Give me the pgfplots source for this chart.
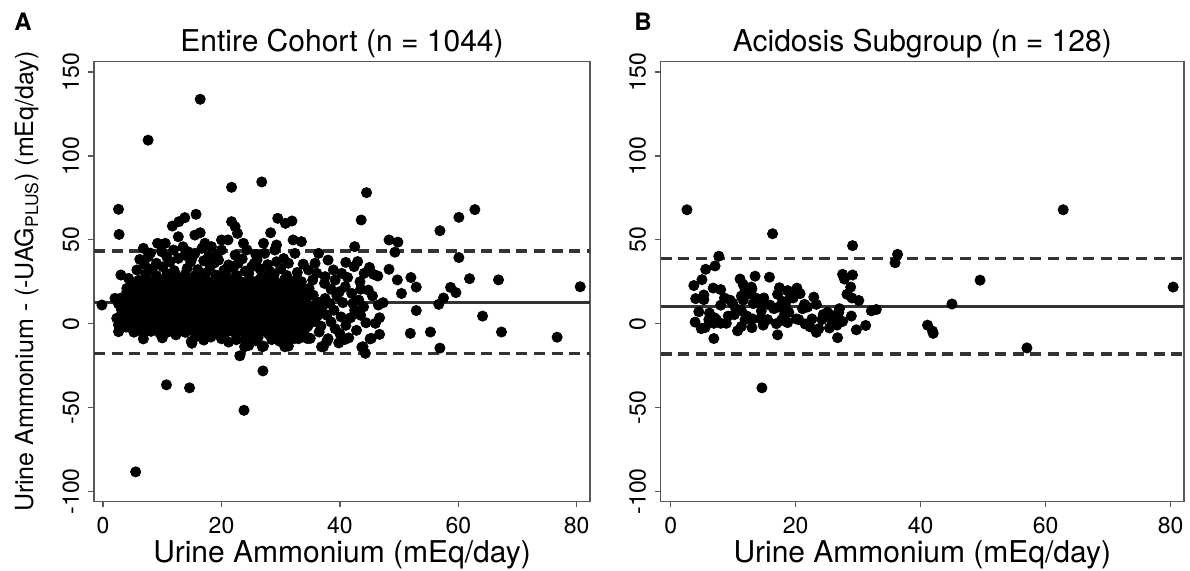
\documentclass[border=0pt]{standalone}
\usepackage{fontspec}
\setmainfont{TeX Gyre Heros}
\usepackage{pgfplots}
\pgfplotsset{compat=1.18}

\definecolor{boxgray}{gray}{0.35}
\definecolor{linegray}{gray}{0.2}

\pgfplotsset{
  bland/.style={
    scale only axis, height=220pt,
    ymin=-106.2, ymax=156.2,
    xtick={0,20,40,60,80}, xticklabels={0,20,40,60,80},
    ytick={-100,-50,0,50,100,150}, yticklabels={-100,-50,0,50,100,150},
    tick align=outside, xtick pos=bottom, ytick pos=left,
    major tick length=2.85pt,
    axis line style={boxgray, line width=0.7pt},
    every tick/.style={boxgray, line width=0.7pt},
    tick label style={font=\fontsize{11.5}{13}\selectfont, inner sep=0pt},
    xticklabel style={anchor=north, yshift=-4.65pt},
    yticklabel style={rotate=90, anchor=south},
    yticklabel shift=4.3pt,
    every axis title/.style={font=\fontsize{15}{17}\selectfont, at={(0.5,1)}, anchor=base, yshift=5pt},
    every axis x label/.style={font=\fontsize{15}{17}\selectfont, at={(0.5,0)}, anchor=base, yshift=-30.5pt},
  },
  dots/.style={only marks, mark=*, mark size=2.55pt, mark options={draw=black, fill=black}},
  mean/.style={linegray, line width=1.5pt},
  loa/.style={linegray, line width=1.65pt, dash pattern=on 5.5pt off 3.3pt},
}

\begin{document}
\begin{tikzpicture}
% ---------------- panel A ----------------
\begin{axis}[bland, name=L, at={(0,0)}, anchor=south west, width=248pt,
  xmin=-1.54, xmax=82.25,
  title={Entire Cohort (n = 1044)}, xlabel={Urine Ammonium (mEq/day)}]
\addplot[loa] coordinates {(-1.54,43.3) (82.25,43.3)};
\addplot[loa] coordinates {(-1.54,-18.0) (82.25,-18.0)};
\addplot[mean] coordinates {(-1.54,12.6) (82.25,12.6)};
% outliers and sparse points
\addplot[dots] coordinates {
(16.4,133.8) (7.6,109.4) (26.8,84.5) (21.7,81.3) (44.5,78.1) (62.8,68.0) (2.6,68.2)
(60.1,63.4) (43.6,61.8) (56.9,55.4) (2.7,53.2) (10.7,-36.5) (14.6,-38.3) (23.8,-51.7)
(5.5,-88.4) (27.0,-28.2) (23.1,-19.2) (80.6,22.0) (76.7,-8.1) (67.3,-5.0) (64.1,4.5)
(66.8,26.1) (61.9,26.8) (60.1,39.4) (58.7,21.6) (59.6,18.5) (57.5,15.3) (56.7,11.5)
(56.9,-14.6) (55.3,-5.0) (51.9,-5.8) (52.9,7.8) (52.9,21.8) (52.0,27.5) (50.4,18.0)
(49.7,26.1) (48.3,49.9) (49.8,48.6) (49.3,42.6) (48.3,32.4) (45.7,29.4) (46.4,28.4)
(42.5,45.9) (46.5,11.1) (47.3,12.5) (45.5,16.5) (46.0,0.2) (46.7,3.5) (46.7,-6.4)
(45.3,-8.8) (43.7,-14.1) (44.3,-17.7) (43.4,25.0) (-0.2,11.1) (2.0,15.1) (2.3,3.2)
(2.6,-0.8) (2.6,-4.8) (3.0,29.0)
(11.7,58.2) (12.8,60.8) (13.8,63.2) (15.7,65.2) (21.7,60.8) (22.3,57.8) (22.7,53.8)
(29.5,62.8) (30.8,59.8) (31.9,61.2) (12.7,51.8) (15.5,52.8) (16.4,54.2) (28.3,54.2)
(29.3,46.9) (27.1,47.9) (32.1,49.9) (33.5,48.9) (9.2,47.9) (10.5,47.9) (6.8,44.9)
(20.0,49.9) (21.1,49.9) (23.7,47.9) (18.3,45.9) (17.2,47.9) (6.2,38.3) (7.6,39.9)
(9.9,42.9) (11.9,43.9) (12.7,38.9) (13.8,40.8) (11.3,36.9) (15.5,41.9) (16.7,44.9)
(19.5,37.9) (20.0,43.9) (22.3,40.9) (22.8,36.0) (25.1,33.9) (27.3,41.9) (29.0,43.9)
(29.3,36.9) (31.3,36.0) (32.4,41.9) (34.7,32.0) (35.8,36.0) (36.4,41.9) (38.0,37.9)
(38.9,32.0) (37.5,28.0) (39.2,26.0) (40.3,30.0) (35.4,26.0) (36.1,30.0) (4.3,27.0)
(4.0,21.0) (5.7,32.0)
(8.3,32.5) (10.1,33.8) (12.0,31.6) (14.2,33.0) (16.0,32.2) (18.1,34.1) (20.4,31.8)
(22.0,33.2) (24.0,31.3) (26.5,32.6) (28.2,31.0) (30.0,32.8) (32.8,30.5) (17.0,37.5)
(14.8,36.8) (9.0,36.0) (26.0,38.0) (24.3,44.0) (13.5,45.8) (19.2,41.0)
(7.0,35.2) (10.8,39.5) (15.0,38.9) (18.8,36.2) (21.2,35.0) (23.5,38.6) (25.5,35.8)
(27.8,35.2) (30.5,38.8) (33.8,35.5) (8.0,42.0) (14.4,42.8) (17.8,40.0) (25.8,41.2)
(6.8,-9.1) (14.9,-10.6) (15.7,-7.8) (15.0,-11.7) (23.9,-13.8) (24.6,-13.0) (26.9,-13.8)
(27.1,-13.4) (30.7,-13.8) (31.3,-13.4) (32.3,-8.9) (34.5,-8.9) (36.9,-13.8) (37.8,-10.6)
(40.8,-9.5) (43.9,-13.8) (45.1,-9.1) (20.0,-9.0) (10.0,-8.5) (28.5,-9.5) (18.2,-8.0)
(22.5,-9.6) (25.8,-10.2) (21.2,-11.0) (24.0,-9.2) (29.8,-10.5) (26.2,-8.0) (17.0,-9.8)
(33.5,25.0) (34.8,21.0) (35.5,17.0) (36.2,13.0) (37.0,9.5) (37.8,5.0) (38.5,1.0)
(39.2,-3.0) (36.5,-5.0) (38.0,-9.0) (40.0,-6.0) (41.0,-1.0) (41.8,3.5) (42.5,8.0)
(40.5,12.5) (39.5,16.5) (38.5,20.5) (37.4,24.0) (40.9,22.0) (42.0,18.0) (43.2,14.0)
(44.0,10.0) (43.5,5.0) (44.4,0.5) (42.8,-4.0) (41.5,-8.5) (39.8,-11.5) (37.2,-13.8)
(35.0,-8.8) (33.0,-9.0) (44.1,30.0) (42.4,34.0) (43.0,37.0) (41.0,36.5) (45.0,33.5)
(44.8,20.0) (36.8,-1.5) (37.5,15.0) (39.0,8.0) (40.2,4.0) (35.8,2.5) (38.3,12.0)
(41.3,27.5) (39.9,19.0) (42.2,12.0) (43.5,20.5)
};
% dense core of the cohort
\addplot[dots] coordinates {
(5.2,-5.1) (6.8,-6.3) (8.1,-4.6) (9.6,-5.8) (11.0,-4.9) (12.3,-6.7) (13.9,-5.2)
(15.2,-4.4) (16.8,-6.1) (18.1,-5.0) (19.7,-7.2) (21.0,-4.8) (22.4,-6.0) (23.9,-5.3)
(25.3,-7.0) (26.6,-4.7) (28.0,-6.4) (29.5,-5.5) (30.9,-7.8) (32.4,-5.1) (34.0,-4.2)
(3.9,-2.1) (5.0,-3.0) (6.1,-1.8) (7.3,-2.9) (8.4,-2.2) (9.5,-3.4) (10.6,-1.9)
(11.8,-2.8) (12.9,-2.0) (14.0,-3.3) (15.1,-2.4) (16.3,-1.7) (17.4,-3.1) (18.5,-2.3)
(19.6,-2.9) (20.8,-1.6) (21.9,-3.2) (23.0,-2.5) (24.1,-1.9) (25.3,-3.0) (26.4,-2.2)
(27.5,-3.5) (28.7,-1.8) (29.8,-2.7) (30.9,-3.3) (32.1,-2.0) (33.3,-2.9) (34.6,-1.5)
(3.4,1.5) (4.5,0.6) (5.6,1.8) (6.7,0.9) (7.8,1.4) (8.9,0.3) (10.0,1.7) (11.1,0.8)
(12.2,1.9) (13.3,0.5) (14.4,1.2) (15.5,1.8) (16.6,0.4) (17.7,1.6) (18.8,0.7) (19.9,1.3)
(21.0,0.2) (22.1,1.9) (23.2,0.8) (24.3,1.4) (25.4,0.5) (26.5,1.7) (27.6,0.9) (28.7,1.5)
(29.8,0.3) (30.9,1.8) (32.0,0.6) (33.2,1.3) (34.5,0.2) (35.8,1.1)
(3.0,4.8) (4.1,3.9) (5.2,5.1) (6.3,4.2) (7.4,5.3) (8.5,3.8) (9.6,4.9) (10.7,4.1)
(11.8,5.4) (12.9,3.7) (14.0,4.6) (15.1,5.2) (16.2,4.0) (17.3,4.9) (18.4,3.6) (19.5,5.0)
(20.6,4.3) (21.7,5.5) (22.8,3.9) (23.9,4.7) (25.0,5.3) (26.1,4.0) (27.2,4.8) (28.3,3.7)
(29.4,5.1) (30.5,4.4) (31.6,5.6) (32.7,3.8) (33.8,4.9) (35.0,4.2) (36.3,5.0)
(3.1,8.4) (4.2,7.5) (5.3,8.7) (6.4,7.8) (7.5,8.2) (8.6,7.3) (9.7,8.9) (10.8,7.6)
(11.9,8.5) (13.0,7.9) (14.1,8.8) (15.2,7.4) (16.3,8.3) (17.4,7.7) (18.5,8.9) (19.6,7.5)
(20.7,8.2) (21.8,7.8) (22.9,8.7) (24.0,7.3) (25.1,8.5) (26.2,7.9) (27.3,8.6) (28.4,7.4)
(29.5,8.3) (30.6,7.7) (31.7,8.8) (32.8,7.6) (33.9,8.1) (35.1,7.4) (36.4,8.6)
(2.6,11.8) (3.7,11.0) (4.8,12.1) (5.9,11.3) (7.0,11.9) (8.1,10.9) (9.2,12.2) (10.3,11.4)
(11.4,12.0) (12.5,11.1) (13.6,11.8) (14.7,11.2) (15.8,12.3) (16.9,10.8) (18.0,11.7)
(19.1,12.1) (20.2,11.0) (21.3,11.9) (22.4,11.3) (23.5,12.2) (24.6,10.9) (25.7,11.6)
(26.8,12.0) (27.9,11.2) (29.0,11.8) (30.1,10.8) (31.2,12.1) (32.3,11.4) (33.5,11.9)
(34.8,10.7)
(3.0,15.2) (4.1,14.6) (5.2,15.7) (6.3,14.8) (7.4,15.4) (8.5,14.4) (9.6,15.9) (10.7,14.7)
(11.8,15.3) (12.9,14.5) (14.0,15.8) (15.1,14.9) (16.2,15.5) (17.3,14.3) (18.4,15.6)
(19.5,14.8) (20.6,15.2) (21.7,14.6) (22.8,15.9) (23.9,14.4) (25.0,15.3) (26.1,14.7)
(27.2,15.6) (28.3,14.5) (29.4,15.1) (30.5,14.8) (31.7,15.7) (33.0,14.6) (34.4,15.2)
(4.0,18.9) (5.1,18.0) (6.2,19.1) (7.3,18.3) (8.4,18.8) (9.5,17.9) (10.6,19.2) (11.7,18.4)
(12.8,18.7) (13.9,17.8) (15.0,19.0) (16.1,18.2) (17.2,19.3) (18.3,18.1) (19.4,18.6)
(20.5,17.7) (21.6,19.1) (22.7,18.3) (23.8,18.9) (24.9,17.8) (26.0,18.5) (27.1,19.2)
(28.2,18.0) (29.3,18.7) (30.4,17.9) (31.6,19.0) (32.9,18.2) (34.2,18.8)
(5.0,22.3) (6.2,21.5) (7.4,22.6) (8.6,21.8) (9.8,22.1) (11.0,21.4) (12.2,22.7) (13.4,21.9)
(14.6,22.4) (15.8,21.6) (17.0,22.8) (18.2,21.7) (19.4,22.2) (20.6,21.5) (21.8,22.5)
(23.0,21.8) (24.2,22.3) (25.4,21.4) (26.6,22.7) (27.8,21.9) (29.0,22.1) (30.3,21.6)
(31.7,22.5) (33.2,21.8)
(6.0,25.8) (7.3,25.1) (8.7,26.0) (10.0,25.3) (11.4,25.9) (12.7,25.0) (14.0,26.2)
(15.3,25.4) (16.6,25.7) (17.9,24.9) (19.2,26.1) (20.5,25.2) (21.9,25.8) (23.3,25.0)
(24.7,26.3) (26.1,25.5) (27.5,25.9) (29.0,25.1) (30.6,26.0) (32.2,25.3)
(7.2,29.4) (9.0,28.6) (10.8,29.8) (12.3,28.9) (13.9,29.5) (15.6,28.7) (17.3,30.1)
(19.0,29.0) (20.7,29.6) (22.5,28.8) (24.6,29.9) (26.8,28.5) (28.9,29.3) (31.0,28.7)
};
\end{axis}
% ---------------- panel B ----------------
\begin{axis}[bland, name=R, at={(283.35pt,0)}, anchor=south west, width=261.65pt,
  xmin=-1.6, xmax=82.13,
  title={Acidosis Subgroup (n = 128)}, xlabel={Urine Ammonium (mEq/day)}]
\addplot[loa] coordinates {(-1.6,38.9) (82.13,38.9)};
\addplot[loa] coordinates {(-1.6,-18.1) (82.13,-18.1)};
\addplot[mean] coordinates {(-1.6,10.3) (82.13,10.3)};
\addplot[dots] coordinates {
(2.6,67.9) (62.8,67.9) (16.3,53.6) (29.1,46.5) (7.7,40.2) (36.3,41.3) (35.9,36.3)
(7.1,34.4) (5.6,32.4) (13.5,28.3) (15.8,27.7) (5.0,26.2) (3.7,22.7) (27.5,29.4)
(29.1,29.0) (27.8,26.6) (28.8,21.8) (49.5,25.9) (80.4,21.8) (11.1,26.6) (11.6,23.3)
(6.8,21.2) (8.0,20.3) (17.4,21.4) (20.2,21.2) (11.9,19.7) (13.0,20.7) (20.7,17.9)
(19.2,17.1) (28.2,17.5) (17.1,17.5) (5.3,17.1) (4.0,14.9) (5.3,14.3) (22.9,15.8)
(29.0,15.3) (30.1,13.8) (9.5,14.0) (9.9,12.3) (8.0,11.0) (14.9,15.3) (13.6,15.3)
(11.6,14.0) (13.2,11.9) (17.9,13.2) (18.5,13.2) (17.3,9.9) (21.4,11.5) (21.9,9.9)
(45.0,11.7) (10.4,8.9) (10.2,5.4) (4.5,7.1) (6.2,6.3) (7.0,3.5) (6.9,0.2) (8.0,0.2)
(7.3,2.4) (3.9,0.9) (5.5,-2.4) (6.9,-8.9) (10.7,-4.3) (11.3,-1.7) (12.2,4.5) (13.1,2.8)
(13.0,-2.4) (14.5,7.6) (14.4,3.0) (15.5,2.4) (14.8,-0.9) (16.9,0.0) (17.7,1.9)
(17.1,-6.7) (18.1,4.5) (18.7,0.6) (18.9,6.7) (20.1,2.8) (21.5,-0.2) (22.6,2.8)
(23.3,-5.2) (23.7,-3.0) (24.4,5.4) (25.4,5.6) (25.9,0.6) (25.4,-2.6) (26.6,2.4)
(26.6,-0.9) (26.4,4.1) (26.9,6.7) (27.0,8.9) (26.7,-8.4) (28.9,4.5) (29.7,-3.7)
(31.2,-1.1) (32.1,7.6) (32.9,8.4) (41.1,-0.9) (41.9,-4.5) (42.0,-5.8) (57.0,-14.5)
(14.6,-38.3) (9.2,4.5) (8.9,0.2) (11.3,7.8) (11.9,2.4) (15.9,11.0) (14.4,12.1)
(19.6,15.3) (18.7,19.7) (21.1,8.9) (23.3,11.5) (24.2,2.4) (24.8,4.1) (27.5,1.3)
(6.1,2.4) (4.9,-3.0) (8.6,15.3) (16.5,8.9) (20.5,2.4) (22.3,-1.9) (25.1,6.7)
(18.4,8.9) (11.3,16.4) (12.2,17.5) (12.9,21.8)
};
\end{axis}
\node[rotate=90, anchor=base, font=\fontsize{12.5}{14}\selectfont]
  at ([xshift=-30.4pt]L.west) {Urine Ammonium - (-UAG\textsubscript{PLUS}) (mEq/day)};
\node[anchor=base west, inner sep=0pt, font=\fontsize{12}{14}\selectfont\bfseries]
  at ([xshift=-40pt, yshift=15.85pt]L.north west) {A};
\node[anchor=base west, inner sep=0pt, font=\fontsize{12}{14}\selectfont\bfseries]
  at ([xshift=-13.35pt, yshift=15.85pt]R.north west) {B};
\pgfresetboundingbox
\useasboundingbox (-47pt,-34.15pt) rectangle (548pt,250.85pt);
\end{tikzpicture}
\end{document}
